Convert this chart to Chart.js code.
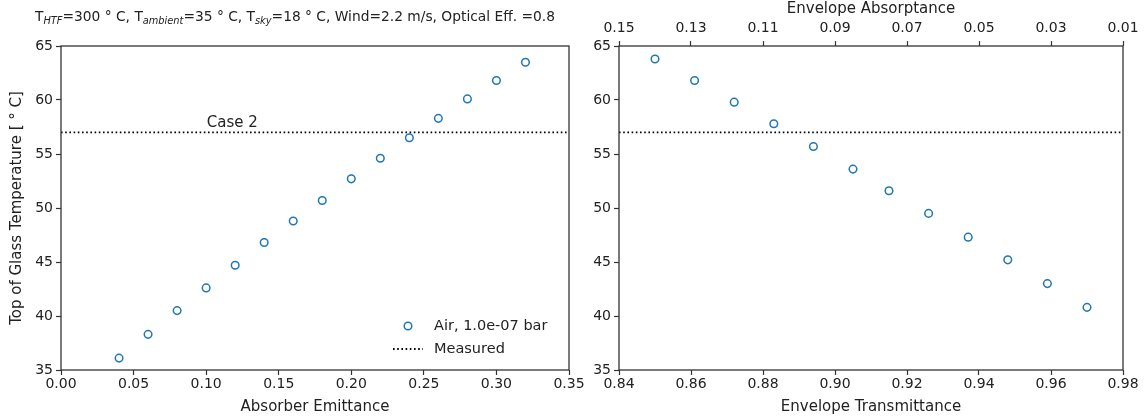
<!DOCTYPE html>
<html>
<head>
<meta charset="UTF-8">
<title>glassTemp.html</title>
<style>
	body {margin:0; background:#fff;}
	.wrap {position:relative; width:1146px; height:418px;}
	.wrap canvas {position:absolute; left:0; top:0;}
</style>
</head>
<body>
	<div class="wrap">
		<canvas id="emitChart" width="1146" height="418"></canvas>
		<canvas id="transChart" width="1146" height="418"></canvas>
	</div>
</body>
<script src="https://cdn.jsdelivr.net/npm/chart.js@4"></script>
<script>
	// data
	const emittance = [0.04, 0.06, 0.08, 0.10, 0.12, 0.14, 0.16, 0.18, 0.20, 0.22, 0.24, 0.26, 0.28, 0.30, 0.32];
	const tempByEmit = [36.1, 38.3, 40.5, 42.6, 44.7, 46.8, 48.8, 50.7, 52.7, 54.6, 56.5, 58.3, 60.1, 61.8, 63.5];
	const transmittance = [0.85, 0.861, 0.872, 0.883, 0.894, 0.905, 0.915, 0.926, 0.937, 0.948, 0.959, 0.97];
	const tempByTrans = [63.8, 61.8, 59.8, 57.8, 55.7, 53.6, 51.6, 49.5, 47.3, 45.2, 43.0, 40.8];
	const measured = 57.0;

	const emitTicks = [0, 0.05, 0.10, 0.15, 0.20, 0.25, 0.30, 0.35];
	const transTicks = [0.84, 0.86, 0.88, 0.90, 0.92, 0.94, 0.96, 0.98];
	const absorbTicks = [0.01, 0.03, 0.05, 0.07, 0.09, 0.11, 0.13, 0.15];
	const tempTicks = [35, 40, 45, 50, 55, 60, 65];

	const FONT = 'DejaVu Sans';
	const INK = '#222';
	const AXIS = '#333';
	const BLUE = '#1f77b4';

	Chart.defaults.font.family = FONT;
	Chart.defaults.color = INK;

	function setTicks(list) {
		return function(scale) {
			scale.ticks = list.map(v => ({value: v}));
		};
	}
	function fixSize(size) {
		return function(scale) {
			if (scale.isHorizontal()) scale.height = size; else scale.width = size;
			scale.paddingLeft = 0; scale.paddingRight = 0;
			scale.paddingTop = 0; scale.paddingBottom = 0;
		};
	}
	function xAxis(min, max, list, title, pos, size, extra) {
		const onTop = pos === 'top';
		return Object.assign({
			type:'linear', position:pos, min:min, max:max,
			afterBuildTicks:setTicks(list), afterFit:fixSize(size),
			border:{display:false},
			grid:{drawOnChartArea:false, tickLength:5, tickColor:AXIS, tickWidth:1.2},
			ticks:{font:{size:14}, padding:onTop ? 4 : 1, maxRotation:0, autoSkip:false,
				callback:v => v.toFixed(2)},
			title:{display:true, text:title, font:{size:15},
				padding:onTop ? {top:0, bottom:0} : {top:2, bottom:2}}
		}, extra || {});
	}
	function yAxis(size, title) {
		return {
			type:'linear', position:'left', min:35, max:65,
			afterBuildTicks:setTicks(tempTicks), afterFit:fixSize(size),
			border:{display:false},
			grid:{drawOnChartArea:false, tickLength:5, tickColor:AXIS, tickWidth:1.2},
			ticks:{font:{size:14}, padding:3, autoSkip:false, callback:v => String(v)},
			title:{display:!!title, text:title || '', font:{size:15}, padding:{top:8, bottom:0}}
		};
	}

	// full box round the plot area
	const frame = {
		id:'frame',
		afterDraw(chart) {
			const a = chart.chartArea, c = chart.ctx;
			c.save();
			c.strokeStyle = AXIS;
			c.lineWidth = 1.3;
			c.strokeRect(a.left, a.top, a.right - a.left, a.bottom - a.top);
			c.restore();
		}
	};

	// title with italic subscripts
	const headline = {
		id:'headline',
		afterDraw(chart) {
			const parts = [
				['T', 0], ['HTF', 1], ['=300 ° C, T', 0], ['ambient', 1], ['=35 ° C, T', 0],
				['sky', 1], ['=18 ° C, Wind=2.2 m/s, Optical Eff. =0.8', 0]
			];
			const c = chart.ctx;
			c.save();
			c.fillStyle = INK;
			c.textBaseline = 'alphabetic';
			let x = 35;
			parts.forEach(p => {
				c.font = p[1] ? 'italic 9.8px ' + FONT : '13.8px ' + FONT;
				c.fillText(p[0], x, p[1] ? 24 : 21);
				x += c.measureText(p[0]).width;
			});
			c.restore();
		}
	};

	// "Case 2" label and legend
	const notes = {
		id:'notes',
		afterDraw(chart) {
			const c = chart.ctx, a = chart.chartArea;
			const xs = chart.scales.x, ys = chart.scales.y;
			c.save();
			c.fillStyle = INK;
			c.font = '15px ' + FONT;
			c.textAlign = 'center';
			c.textBaseline = 'alphabetic';
			c.fillText('Case 2', xs.getPixelForValue(0.118), ys.getPixelForValue(measured) - 5);

			c.textAlign = 'left';
			c.textBaseline = 'middle';
			c.font = '14.5px ' + FONT;
			const lx = a.right - 176, tx = a.right - 135;
			const y1 = a.bottom - 44, y2 = a.bottom - 21;
			c.strokeStyle = BLUE;
			c.lineWidth = 1.5;
			c.beginPath();
			c.arc(lx + 15, y1, 3.8, 0, Math.PI * 2);
			c.stroke();
			c.fillText('Air, 1.0e-07 bar', tx, y1);
			c.strokeStyle = '#000';
			c.setLineDash([1.6, 2.6]);
			c.lineWidth = 1.8;
			c.beginPath();
			c.moveTo(lx, y2);
			c.lineTo(lx + 30, y2);
			c.stroke();
			c.setLineDash([]);
			c.fillText('Measured', tx, y2);
			c.restore();
		}
	};

	function measuredLine(x0, x1) {
		return {
			type:'line', label:'Measured',
			data:[{x:x0, y:measured}, {x:x1, y:measured}],
			borderColor:'#000', borderWidth:1.8, borderDash:[1.6, 2.6],
			pointRadius:0, fill:false
		};
	}
	function points(xs, ys) {
		return {
			type:'scatter', label:'Air, 1.0e-07 bar',
			data:xs.map((x, i) => ({x:x, y:ys[i]})),
			borderColor:BLUE, backgroundColor:'rgba(0,0,0,0)',
			borderWidth:1.5, pointRadius:3.8
		};
	}

	// left: absorber emittance
	new Chart(document.getElementById('emitChart'), {
		type:'scatter',
		data:{datasets:[measuredLine(0, 0.35), points(emittance, tempByEmit)]},
		options:{
			responsive:false, animation:false,
			layout:{padding:{left:0, right:577, top:46, bottom:0}},
			plugins:{legend:{display:false}, tooltip:{enabled:false}},
			scales:{
				x:xAxis(0, 0.35, emitTicks, 'Absorber Emittance', 'bottom', 48),
				y:yAxis(61, 'Top of Glass Temperature [ ° C]')
			}
		},
		plugins:[frame, headline, notes]
	});

	// right: envelope transmittance / absorptance
	new Chart(document.getElementById('transChart'), {
		type:'scatter',
		data:{datasets:[measuredLine(0.84, 0.98), points(transmittance, tempByTrans)]},
		options:{
			responsive:false, animation:false,
			layout:{padding:{left:580, right:23, top:0, bottom:0}},
			plugins:{legend:{display:false}, tooltip:{enabled:false}},
			scales:{
				x:xAxis(0.84, 0.98, transTicks, 'Envelope Transmittance', 'bottom', 48),
				x2:xAxis(0.01, 0.15, absorbTicks, 'Envelope Absorptance', 'top', 46,
					{reverse:true}),
				y:yAxis(39, '')
			}
		},
		plugins:[frame]
	});
</script>
</html>
